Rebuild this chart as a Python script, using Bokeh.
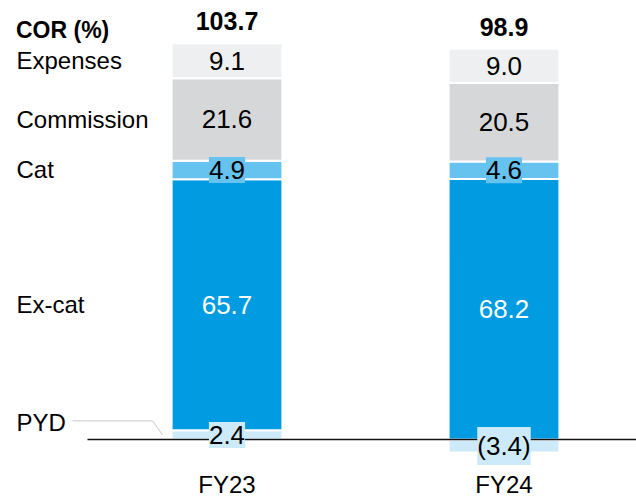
from bokeh.plotting import figure
from bokeh.models import Range1d, ColumnDataSource
from bokeh.core.properties import value
from bokeh.embed import file_html
from bokeh.resources import INLINE

# ---- data ----
categories = ["FY23", "FY24"]
segments = ["PYD", "Ex-cat", "Cat", "Commission", "Expenses"]
pyd = [2.4, -3.4]
ex_cat = [65.7, 68.2]
cat = [4.9, 4.6]
commission = [21.6, 20.5]
expenses = [9.1, 9.0]
title_label = "COR (%)"

series = {"PYD": pyd, "Ex-cat": ex_cat, "Cat": cat,
          "Commission": commission, "Expenses": expenses}

# ---- styles ----
seg_colors = {"PYD": "#CCEAF9", "Ex-cat": "#009BE1", "Cat": "#66C3F0",
              "Commission": "#D6D7D9", "Expenses": "#EEEFF1"}
seg_text_colors = {"PYD": "black", "Ex-cat": "white", "Cat": "black",
                   "Commission": "black", "Expenses": "black"}
FONT = value("Liberation Sans")

W, H = 636, 498
KX, KY = 277.0, 3.82          # px per data unit
X0_PX, Y0_PX = 226.5, 439.0   # pixel position of (0, 0)
x_start, x_end = -X0_PX / KX, (W - X0_PX) / KX
y_end, y_start = Y0_PX / KY, -(H - Y0_PX) / KY
BAR_W = 0.4

p = figure(width=W, height=H, x_range=Range1d(x_start, x_end),
           y_range=Range1d(y_start, y_end), output_backend="svg",
           toolbar_location=None, min_border=0,
           x_axis_type=None, y_axis_type=None)
p.grid.visible = False
p.outline_line_color = None
p.background_fill_color = "white"
p.border_fill_color = "white"

# ---- stack ----
rows = {k: [] for k in ["x", "bottom", "top", "mid", "color", "label",
                        "tcolor", "seg"]}
tops = []
totals = []
for i, c in enumerate(categories):
    pos, neg = 0.0, 0.0
    for s in segments:
        v = series[s][i]
        if v >= 0:
            b, t = pos, pos + v
            pos = t
        else:
            b, t = neg + v, neg
            neg = b
        rows["x"].append(i)
        rows["bottom"].append(b)
        rows["top"].append(t)
        rows["mid"].append((b + t) / 2)
        rows["color"].append(seg_colors[s])
        rows["label"].append(f"{v:.1f}" if v >= 0 else f"({abs(v):.1f})")
        rows["tcolor"].append(seg_text_colors[s])
        rows["seg"].append(s)
    tops.append(pos)
    totals.append(sum(series[s][i] for s in segments))

src = ColumnDataSource(rows)
p.vbar(x="x", width=BAR_W, bottom="bottom", top="top", fill_color="color",
       line_color="white", line_width=2, source=src)

# baseline
p.segment(x0=[-139.5 / KX], y0=[0], x1=[x_end], y1=[0],
          line_color="#111111", line_width=1.5)

# leader line for PYD
pyd_mid0 = pyd[0] / 2
bar_left0 = 0 - BAR_W / 2
p.line(x=[x_start + 72 / KX, bar_left0 - 19 / KX, bar_left0 - 9 / KX],
       y=[pyd_mid0 + 14 / KY, pyd_mid0 + 14 / KY, pyd_mid0],
       line_color="#C8C8C8", line_width=1)

# segment value labels
p.text(x="x", y="mid", text="label", source=src, text_align="center",
       text_baseline="middle", text_font=FONT, text_font_size="26px",
       text_color="tcolor", background_fill_color="color", padding=(0, 4))

# totals
p.text(x=list(range(len(categories))), y=tops,
       text=[f"{t:.1f}" for t in totals], text_align="center",
       text_baseline="middle", text_font=FONT, text_font_size="25px",
       text_font_style="bold", text_color="black", y_offset=-22)

# category labels
p.text(x=list(range(len(categories))), y=[0] * len(categories),
       text=categories, text_align="center", text_baseline="middle",
       text_font=FONT, text_font_size="24px", text_color="black", y_offset=45)

# left series labels (aligned with FY23 segments)
left_y = [rows["mid"][j] for j in range(len(segments))]
left_off = [-12 if s == "PYD" else 0 for s in segments]
p.text(x=[x_start] * len(segments), y=left_y, text=segments,
       x_offset=16, y_offset=left_off, text_align="left",
       text_baseline="middle", text_font=FONT, text_font_size="24px",
       text_color="black")

# header
p.text(x=[x_start], y=[y_end], text=[title_label], x_offset=15.5, y_offset=29.5,
       text_align="left", text_baseline="middle", text_font=FONT,
       text_font_size="23px", text_font_style="bold", text_color="black")

open("out.html", "w").write(file_html(p, INLINE))
